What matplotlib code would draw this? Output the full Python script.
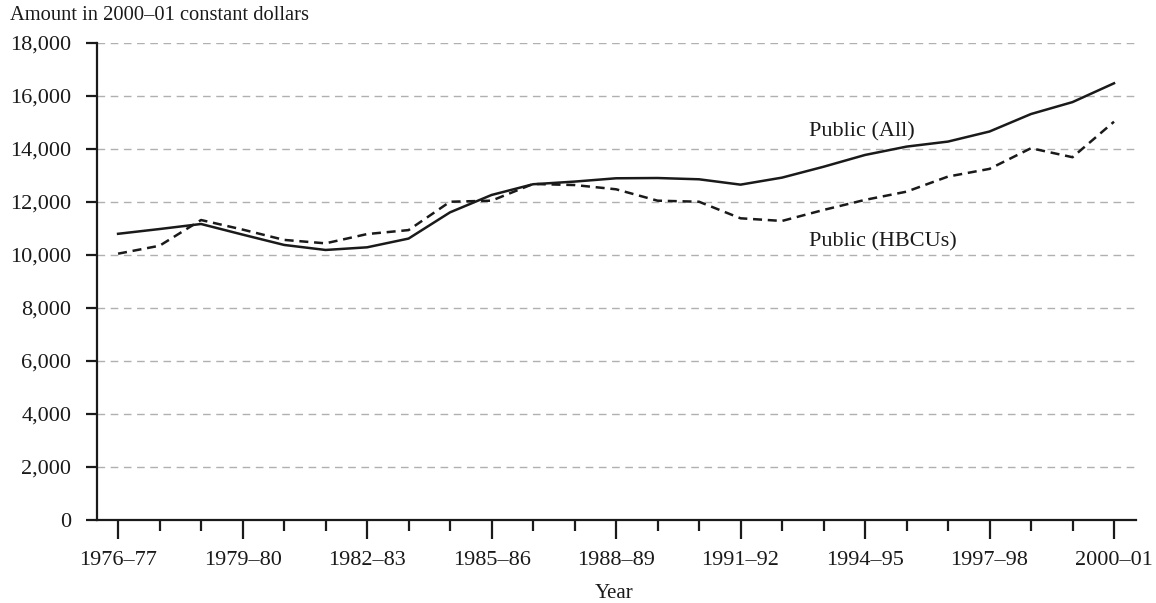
import matplotlib
matplotlib.use("Agg")
import matplotlib.pyplot as plt
import numpy as np

years = ["1976–77", "1977–78", "1978–79", "1979–80", "1980–81", "1981–82", "1982–83",
         "1983–84", "1984–85", "1985–86", "1986–87", "1987–88", "1988–89", "1989–90",
         "1990–91", "1991–92", "1992–93", "1993–94", "1994–95", "1995–96", "1996–97",
         "1997–98", "1998–99", "1999–2000", "2000–01"]
public_all = [10800, 10980, 11170, 10770, 10380, 10190, 10290, 10620, 11610, 12265,
              12670, 12770, 12895, 12905, 12857, 12655, 12920, 13330, 13775, 14090,
              14280, 14660, 15320, 15770, 16480]
public_hbcu = [10050, 10350, 11320, 10960, 10570, 10440, 10790, 10940, 12010, 12050,
               12680, 12640, 12480, 12050, 12010, 11385, 11285, 11700, 12080, 12390,
               12960, 13250, 14030, 13690, 15030]
yticks = list(range(0, 18001, 2000))

plt.rcParams['font.family'] = ['Liberation Serif', 'DejaVu Serif']

W, H = 1156, 603
fig = plt.figure(figsize=(W / 100, H / 100), dpi=100)
ax = fig.add_axes([96.5 / W, (H - 520) / H, (1136 - 96.5) / W, (520 - 43) / H])

x = np.arange(len(years))
ax.plot(x, public_all, color='#1a1a1a', lw=1.8, solid_joinstyle='round')
ax.plot(x, public_hbcu, color='#1a1a1a', lw=1.8, linestyle=(0, (3.6, 2.3)))

ax.set_xlim(-0.52, 24.53)
ax.set_ylim(0, 18000)

ax.set_yticks(yticks)
ax.set_yticklabels([f"{v:,}" for v in yticks])
major = x[::3]
ax.set_xticks(major)
ax.set_xticklabels([years[i] for i in major])
ax.set_xticks([i for i in x if i % 3 != 0], minor=True)

ax.yaxis.grid(True, color='#b0b0b0', linestyle=(0, (5.5, 4)), lw=1.0)
ax.set_axisbelow(True)
for s in ['top', 'right']:
    ax.spines[s].set_visible(False)
for s in ['left', 'bottom']:
    ax.spines[s].set_linewidth(1.6)
    ax.spines[s].set_color('#1a1a1a')

ax.tick_params(axis='y', which='major', length=8, width=1.6, pad=10,
               labelsize=16, colors='#1a1a1a')
ax.tick_params(axis='x', which='major', length=14, width=1.6, pad=8,
               labelsize=16, colors='#1a1a1a')
ax.tick_params(axis='x', which='minor', length=8, width=1.6, colors='#1a1a1a')

ax.text(16.66, 14650, "Public (All)", fontsize=16, color='#1a1a1a', va='center', ha='left')
ax.text(16.66, 10500, "Public (HBCUs)", fontsize=16, color='#1a1a1a', va='center', ha='left')

fig.text(10 / W, 1 - 15 / H, "Amount in 2000–01 constant dollars", fontsize=14.8,
         color='#1a1a1a', va='center', ha='left')
fig.text(614 / W, 1 - 594 / H, "Year", fontsize=15, color='#1a1a1a', va='center', ha='center')

fig.savefig("out.png", dpi=100)
